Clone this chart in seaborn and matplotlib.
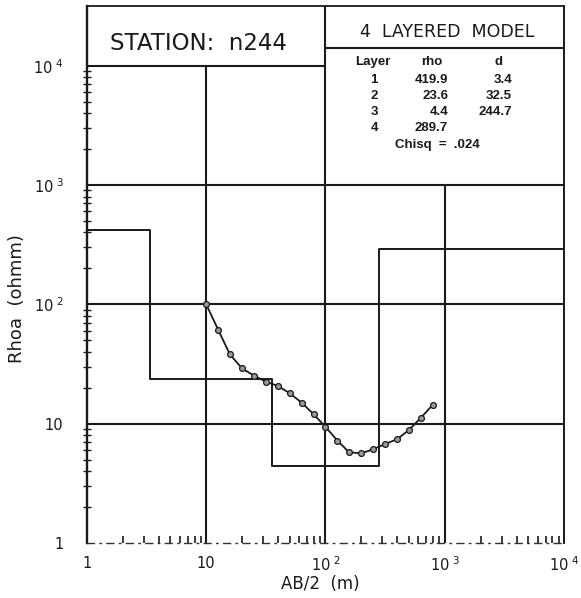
import numpy as np
import pandas as pd
import matplotlib
matplotlib.use("Agg")
import matplotlib.pyplot as plt
import seaborn as sns
from matplotlib.ticker import FixedLocator, NullFormatter

# Field sounding: half electrode spacing AB/2 (m) and apparent resistivity (ohm-m)
station = "n244"
ab2 = [10, 12.6, 15.8, 20, 25.1, 31.6, 39.8, 50.1, 63.1, 79.4,
       100, 126, 158, 200, 251, 316, 398, 501, 631, 794]
rhoa = [100, 61, 38, 29, 25.3, 22.5, 20.7, 18, 15, 12,
        9.4, 7.2, 5.75, 5.65, 6.1, 6.75, 7.4, 8.85, 11.2, 14.4]

# Inverted layered-earth model
layers = [1, 2, 3, 4]
layer_rho = [419.9, 23.6, 4.4, 289.7]
layer_d = [3.4, 32.5, 244.7]
chisq = ".024"

tick_vals = [1, 10, 100, 1000, 10000]
tick_labels = ["1", "10", r"10$^{\ 2}$", r"10$^{\ 3}$", r"10$^{\ 4}$"]

sns.set_theme(style="white")
plt.rcParams["font.family"] = ["DejaVu Sans"]
plt.rcParams["mathtext.fontset"] = "dejavusans"

fig = plt.figure(figsize=(5.81, 5.98), dpi=100)
ax = fig.add_axes([87 / 581, 55 / 598, 477 / 581, 537 / 598])
ax.set_xscale("log")
ax.set_yscale("log")
ax.set_xlim(1, 1e4)
ax.set_ylim(1, 10 ** 4.5)

ink = "#1a1a1a"
glw = 1.5

# Grid frame
for yv in (10, 100, 1000):
    ax.axhline(yv, color=ink, lw=glw, zorder=1)
ax.axhline(1e4, xmin=0, xmax=0.5, color=ink, lw=glw, zorder=1)
ax.axvline(10, ymin=0, ymax=4 / 4.5, color=ink, lw=glw, zorder=1)
ax.axvline(100, color=ink, lw=glw, zorder=1)
ax.axvline(1000, ymin=0, ymax=3 / 4.5, color=ink, lw=glw, zorder=1)
ax.axhline(10 ** 4.15, xmin=0.5, xmax=1, color=ink, lw=glw, zorder=1)

# Model resistivity step profile
bounds = [1] + list(np.cumsum(layer_d)) + [1e4]
step_rho = layer_rho + [layer_rho[-1]]
model = pd.DataFrame({"depth": bounds, "rho": step_rho})
sns.lineplot(data=model, x="depth", y="rho", ax=ax, color=ink, lw=1.4,
             drawstyle="steps-post", estimator=None, sort=False, zorder=2)

# Observed apparent resistivity curve
obs = pd.DataFrame({"ab2": ab2, "rhoa": rhoa})
sns.lineplot(data=obs, x="ab2", y="rhoa", ax=ax, color=ink, lw=1.3,
             marker="o", markersize=4.2, markerfacecolor="#9a9a9a",
             markeredgecolor=ink, markeredgewidth=0.9,
             estimator=None, sort=False, zorder=3)

# Spines
for side in ("left", "right", "top"):
    ax.spines[side].set_color(ink)
ax.spines["left"].set_linewidth(1.7)
ax.spines["right"].set_linewidth(1.4)
ax.spines["top"].set_linewidth(1.3)
ax.spines["bottom"].set_color("#333333")
ax.spines["bottom"].set_linewidth(1.0)
ax.spines["bottom"].set_linestyle((0, (5, 4, 1, 4)))

# Ticks
minor_vals = [m * 10 ** e for e in range(4) for m in range(2, 10)]
ax.set_xticks(tick_vals, tick_labels)
ax.set_yticks(tick_vals, tick_labels)
ax.xaxis.set_minor_locator(FixedLocator(minor_vals))
ax.yaxis.set_minor_locator(FixedLocator(minor_vals))
ax.xaxis.set_minor_formatter(NullFormatter())
ax.yaxis.set_minor_formatter(NullFormatter())
ax.tick_params(axis="both", which="major", length=0, labelsize=10.5, colors=ink)
ax.tick_params(axis="x", which="major", pad=9)
ax.tick_params(axis="y", which="major", pad=17)
ax.tick_params(axis="x", which="minor", direction="in", length=5, width=1.2,
               color=ink, bottom=True)
ax.tick_params(axis="y", which="minor", direction="inout", length=6, width=1.0,
               color=ink, left=True)
ax.set_xlim(1, 1e4)
ax.set_ylim(1, 10 ** 4.5)

ax.set_xlabel("AB/2  (m)", fontsize=12, color=ink)
ax.set_ylabel("Rhoa  (ohmm)", fontsize=13, color=ink)
ax.xaxis.set_label_coords(0.49, -0.06)
ax.yaxis.set_label_coords(-0.128, 0.456)

# Station title and model table
ax.text(0.233, 0.931, f"STATION:  {station}", transform=ax.transAxes,
        ha="center", va="center", fontsize=16.5, color=ink)
ax.text(0.755, 0.951, "4  LAYERED  MODEL", transform=ax.transAxes,
        ha="center", va="center", fontsize=12.5, color=ink)

tfont = dict(transform=ax.transAxes, fontsize=9.5, fontweight="bold",
             color=ink, family="Liberation Sans", va="center")
ax.text(0.600, 0.896, "Layer", ha="center", **tfont)
ax.text(0.722, 0.896, "rho", ha="center", **tfont)
ax.text(0.862, 0.896, "d", ha="center", **tfont)
row_y = [0.862, 0.832, 0.803, 0.773]
for i, (n, r) in enumerate(zip(layers, layer_rho)):
    ax.text(0.602, row_y[i], str(n), ha="center", **tfont)
    ax.text(0.757, row_y[i], f"{r:.1f}", ha="right", **tfont)
    if i < len(layer_d):
        ax.text(0.891, row_y[i], f"{layer_d[i]:.1f}", ha="right", **tfont)
ax.text(0.734, 0.742, f"Chisq  =  {chisq}", ha="center", **tfont)

fig.savefig("out.png", dpi=100)
